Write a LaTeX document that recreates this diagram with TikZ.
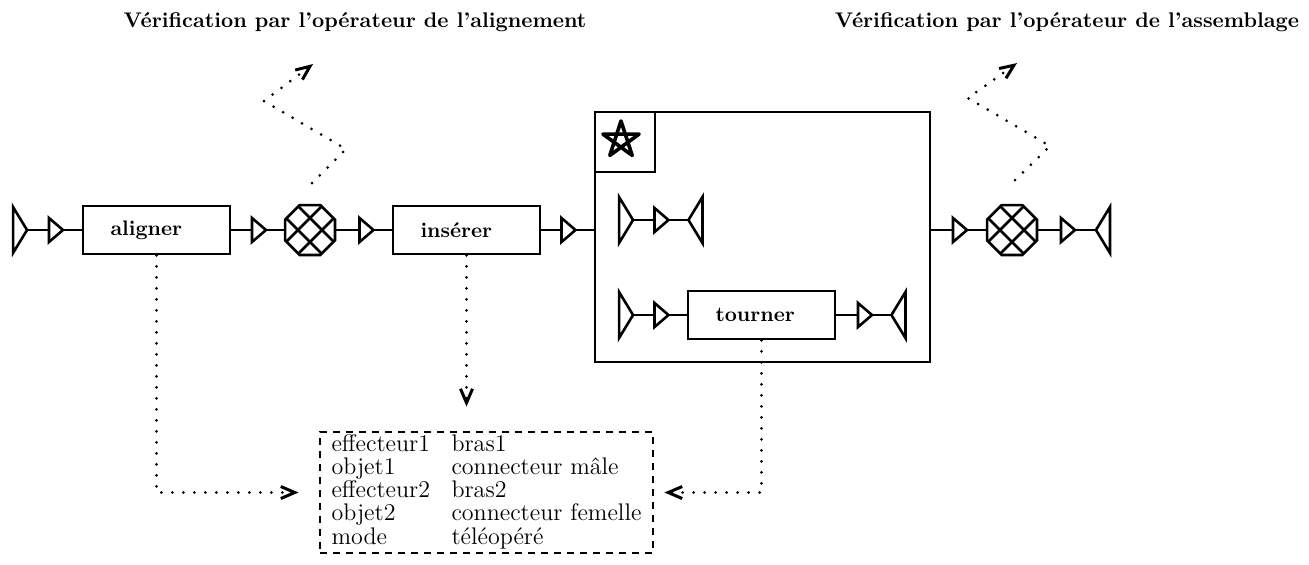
\documentclass[tikz,border=0pt]{standalone}
\usepackage{fontspec}
\usepackage{tikz}
\usetikzlibrary{positioning,calc,arrows.meta,shapes.geometric}

\begin{document}
\begin{tikzpicture}[x=0.5pt,y=-0.5pt,line width=1.3pt,
  task/.style={draw,rectangle,minimum width=73.5pt,minimum height=24pt,inner sep=0pt,
    text width=46pt,align=left,font=\fontsize{10.5}{12}\selectfont\bfseries},
  port/.style={draw,isosceles triangle,isosceles triangle stretches,minimum width=12pt,
    minimum height=7pt,inner sep=0pt,outer sep=0pt,line join=miter,miter limit=4},
  src/.style={port,minimum width=23pt,minimum height=7pt},
  snk/.style={src,shape border rotate=180},
  junction/.style={draw,regular polygon,regular polygon sides=8,minimum size=27pt,inner sep=0pt,outer sep=0pt,
    path picture={\foreach \d in {-6pt,6pt}{
      \draw ([xshift=\d]path picture bounding box.center) ++(-20pt,-20pt) -- ++(40pt,40pt);
      \draw ([xshift=\d]path picture bounding box.center) ++(-20pt,20pt) -- ++(40pt,-40pt);}}},
  note/.style={line width=1.5pt,line cap=round,dash pattern=on 0pt off 5.5pt},
  pointer/.style={-{Straight Barb[length=7pt,width=6pt,line width=1.5pt]}},
  heading/.style={font=\fontsize{10.6}{12}\selectfont\bfseries}]
\useasboundingbox (0,0) rectangle (1309,564);
% operator checks
\node[heading] (chkalign) at (355,22) {Vérification par l'opérateur de l'alignement};
\node[heading] (chkassem) at (1067,22) {Vérification par l'opérateur de l'assemblage};
% main sequence
\foreach \n/\x in {t1/54.5,t2/257.5,t3/365,t4/567,t5/958.5,t6/1066.5}
  \node[port] (\n) at (\x,230) {};
\node[src] (s1) at (19.5,230) {};
\node[task] (aligner) at (156.5,230) {aligner};
\node[junction] (oct1) at (310,230) {};
\node[task] (inserer) at (466.5,230) {insérer};
\node[draw,minimum width=167.5pt,minimum height=125pt,inner sep=0pt] (frame) at (762.5,237) {};
\node[draw,minimum size=30pt,inner sep=0pt,anchor=north west] (starbox) at (frame.north west) {};
\node[junction] (oct2) at (1012,230) {};
\node[snk] (s2) at (1103.5,230) {};
% parallel branches
\node[src] (s3) at (625.5,220) {};
\node[port] (t7) at (660,220) {};
\node[snk] (s4) at (696,220) {};
\node[src] (s5) at (625.5,315) {};
\node[port] (t8) at (660,315) {};
\node[task] (tourner) at (761.5,315) {tourner};
\node[port] (t9) at (863.5,315) {};
\node[snk] (s6) at (899,315) {};
\draw (s1) -- (t1) -- (aligner) -- (t2) -- (oct1) -- (t3) -- (inserer) -- (t4) -- (t4 -| frame.west);
\draw (frame.east |- t5) -- (t5) -- (oct2) -- (t6) -- (s2);
\draw (s3) -- (t7) -- (s4);
\draw (s5) -- (t8) -- (tourner) -- (t9) -- (s6);
% star
\coordinate (starc) at (621,140);
\draw[line width=1.8pt,line join=round] (starc) +(90:9.5pt) -- +(234:9.5pt) -- +(18:9.5pt)
  -- +(162:9.5pt) -- +(306:9.5pt) -- cycle;
% parameters
\node[draw,line width=1.4pt,dash pattern=on 3.5pt off 3pt,minimum width=166.5pt,minimum height=60.5pt,
  inner sep=0pt,font=\fontsize{12}{10.5}\selectfont] (params) at (486.5,492.5) {%
  \begin{tabular}{@{}p{60pt}@{}l@{}}
  effecteur1 & bras1\\
  objet1 & connecteur mâle\\
  effecteur2 & bras2\\
  objet2 & connecteur femelle\\
  mode & téléopéré
  \end{tabular}};
% dotted links
\draw[note,pointer] ([shift={(2,-22)}]oct1.north) -- ++(34,-34) -- ++(-82,-48) -- ++(49,-37);
\draw[note,pointer] ([shift={(3,-25)}]oct2.north) -- ++(35,-34) -- ++(-82,-48) -- ++(49,-35);
\draw[note,pointer] (aligner.south) -- (aligner.south |- params.west) -- ([xshift=-10pt]params.west);
\draw[note,pointer] (inserer.south) -- ($(inserer.south |- params.north)+(0,-24)$);
\draw[note,pointer] (tourner.south) -- (tourner.south |- params.east) -- ([xshift=5pt]params.east);
\end{tikzpicture}
\end{document}
